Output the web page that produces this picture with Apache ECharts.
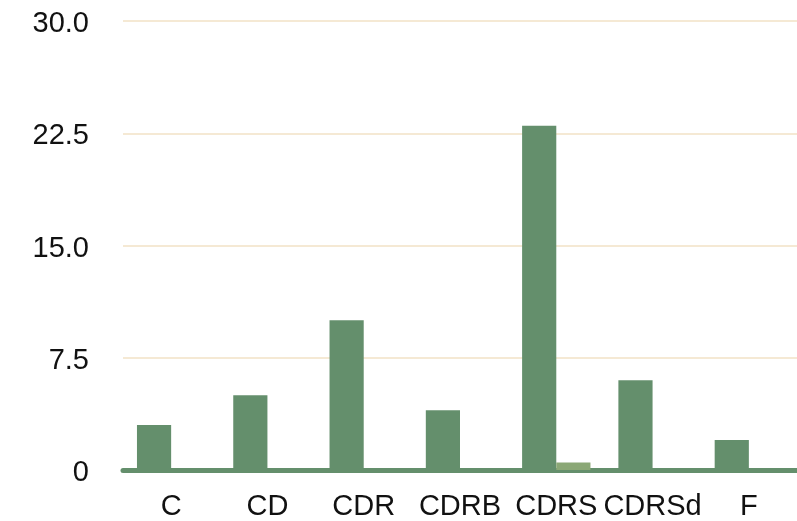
<!DOCTYPE html>
<html>
<head>
<meta charset="utf-8">
<script src="https://cdn.jsdelivr.net/npm/echarts@6/dist/echarts.min.js"></script>
<style>html,body{margin:0;padding:0;background:#fff;}#c{width:797px;height:521px;}</style>
</head>
<body>
<div id="c"></div>
<script>
var categories = ['C', 'CD', 'CDR', 'CDRB', 'CDRS', 'CDRSd', 'F'];
var seriesA = [3, 5, 10, 4, 23, 6, 2];
var seriesB = [0, 0, 0, 0, 0.5, 0, 0];
var yTicks = ['0', '7.5', '15.0', '22.5', '30.0'];

var chart = echarts.init(document.getElementById('c'), null, {renderer: 'canvas'});
var font = 'Liberation Sans, Arial, Helvetica, sans-serif';
chart.setOption({
  animation: false,
  grid: {left: 123, right: 0, top: 21, bottom: 48, containLabel: false},
  xAxis: {
    type: 'category',
    data: categories,
    axisLine: {show: true, lineStyle: {color: '#648f6c', width: 5}},
    axisTick: {show: false},
    axisLabel: {color: '#111', fontSize: 29, fontFamily: font, margin: 22, interval: 0}
  },
  yAxis: {
    type: 'value',
    min: 0, max: 30, interval: 7.5,
    axisLine: {show: false},
    axisTick: {show: false},
    splitLine: {lineStyle: {color: '#f5e9d4', width: 2}},
    axisLabel: {
      color: '#111', fontSize: 29, fontFamily: font, margin: 34,
      verticalAlign: 'top', lineHeight: 6,
      formatter: function (v) { return yTicks[Math.round(v / 7.5)]; }
    }
  },
  series: [
    {type: 'bar', data: seriesA, barGap: '0%', barCategoryGap: '29%', itemStyle: {color: '#648f6c'}, z: 1},
    {type: 'bar', data: seriesB, barGap: '0%', barCategoryGap: '29%', itemStyle: {color: '#8ba876'}, z: 1}
  ]
});
</script>
</body>
</html>
